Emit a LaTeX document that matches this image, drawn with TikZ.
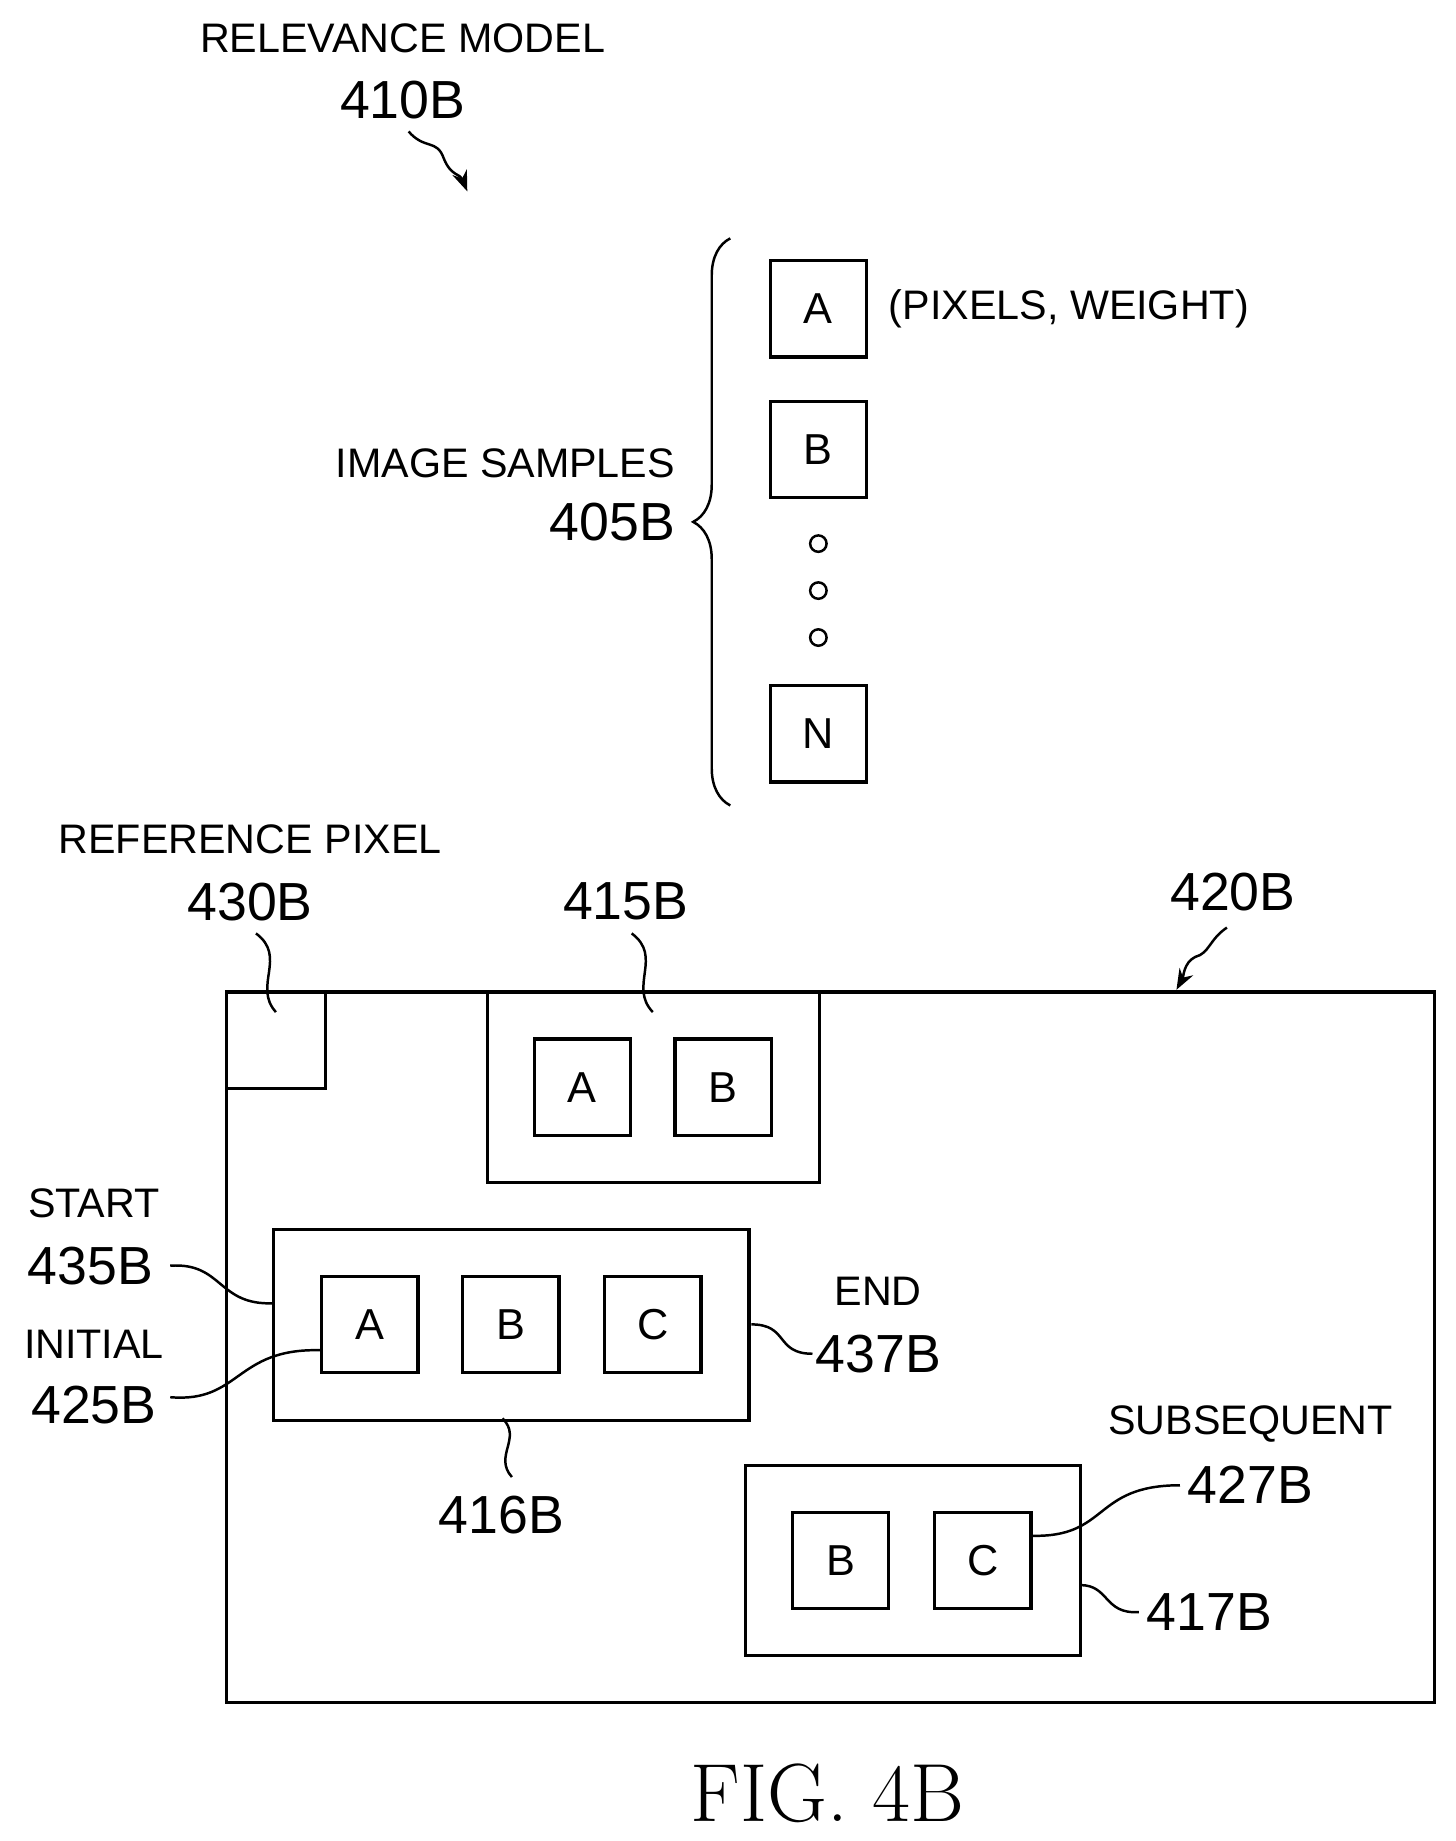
\documentclass[tikz,border=0pt]{standalone}
\usepackage{fontspec}
\setmainfont{Liberation Sans}
\usetikzlibrary{positioning,decorations.pathreplacing,arrows.meta}
\tikzset{
  lbl/.style={font=\fontsize{20}{23}\selectfont,inner sep=1pt,align=center},
  num/.style={font=\fontsize{26}{28}\selectfont,inner sep=1pt,align=center},
  sample/.style={draw,line width=1.6pt,minimum size=1.64cm,inner sep=0pt,font=\fontsize{21}{22}\selectfont},
  frame/.style={draw,line width=1.6pt},
  lead/.style={line width=1.2pt},
  dotc/.style={draw,circle,line width=1.2pt,minimum size=0.28cm,inner sep=0pt}
}
\begin{document}
\begin{tikzpicture}[x=0.02cm,y=-0.02cm]
\useasboundingbox (0,0) rectangle (1240,1568);

% relevance model
\node[lbl] (relmod) at (343,33) {RELEVANCE MODEL};
\node[num] (n410) at (343,85) {410B};
\draw[lead,-{Stealth[length=10pt]}] (348,112) .. controls (362,128) and (372,118) .. (378,135) .. controls (384,150) and (392,148) .. (398,163);

% image samples
\node[sample] (sA) at (697,263) {A};
\node[sample] (sB) at (697,383) {B};
\node[dotc] (d1) at (697,463) {};
\node[dotc] (d2) at (697,503) {};
\node[dotc] (d3) at (697,543) {};
\node[sample] (sN) at (697,625) {N};
\node[lbl,anchor=west] (pw) at (755,263) {(PIXELS, WEIGHT)};
\draw[lead,decorate,decoration={brace,amplitude=18pt,aspect=0.5}] (622,686) -- (622,203);
\node[lbl,anchor=east] (imgs) at (577,395) {IMAGE SAMPLES};
\node[num,anchor=east] (n405) at (577,445) {405B};

% image 420B
\draw[frame] (193,845) rectangle (1222,1450);
\draw[frame] (193,927) -- (277,927) -- (277,845);
\node[lbl] (refpx) at (213,715) {REFERENCE PIXEL};
\node[num] (n430) at (213,768) {430B};
\draw[lead] (218,795) .. controls (245,815) and (215,840) .. (235,862);
\node[num] (n420) at (1050,760) {420B};
\draw[lead,-{Stealth[length=10pt]}] (1045,790) .. controls (1030,800) and (1030,812) .. (1018,815) .. controls (1008,820) and (1008,832) .. (1002,843);

% 415B
\draw[frame] (415,845) rectangle (698,1007);
\node[sample] (a415) at (496,926) {A};
\node[sample] (b415) at (616,926) {B};
\node[num] (n415) at (533,768) {415B};
\draw[lead] (538,795) .. controls (565,815) and (535,840) .. (556,862);

% 416B
\draw[frame] (233,1047) rectangle (638,1210);
\node[sample] (a416) at (315,1128) {A};
\node[sample] (b416) at (435,1128) {B};
\node[sample] (c416) at (556,1128) {C};
\node[num] (n416) at (427,1290) {416B};
\draw[lead] (428,1208) .. controls (445,1225) and (420,1240) .. (436,1258);
\node[lbl] (start) at (80,1025) {START};
\node[num] (n435) at (77,1078) {435B};
\draw[lead] (145,1078) .. controls (190,1075) and (185,1112) .. (233,1110);
\node[lbl] (init) at (80,1145) {INITIAL};
\node[num] (n425) at (80,1197) {425B};
\draw[lead] (145,1190) .. controls (205,1195) and (200,1148) .. (273,1150);
\node[lbl] (endl) at (748,1100) {END};
\node[num] (n437) at (748,1153) {437B};
\draw[lead] (640,1128) .. controls (672,1128) and (660,1153) .. (692,1153);

% 417B
\draw[frame] (635,1248) rectangle (920,1410);
\node[sample] (b417) at (716,1329) {B};
\node[sample] (c417) at (837,1329) {C};
\node[lbl] (subs) at (1065,1213) {SUBSEQUENT};
\node[num] (n427) at (1065,1265) {427B};
\draw[lead] (878,1308) .. controls (945,1310) and (930,1265) .. (1005,1265);
\node[num] (n417) at (1030,1373) {417B};
\draw[lead] (920,1350) .. controls (945,1350) and (940,1375) .. (970,1373);

\node[font=\fontfamily{lmr}\fontsize{40}{42}\selectfont] (fig) at (705,1527) {FIG. 4B};
\end{tikzpicture}
\end{document}
